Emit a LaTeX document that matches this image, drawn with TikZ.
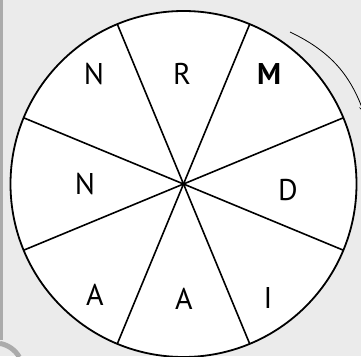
\documentclass[tikz,border=0pt]{standalone}
\usepackage{fontspec}
\setmainfont{PT Sans}
\usepackage{tikz}
\usetikzlibrary{arrows.meta}

\definecolor{paper}{HTML}{EBEBEB}
\definecolor{rim}{HTML}{ABABAB}

\begin{document}
\begin{tikzpicture}[x=1pt,y=1pt,>={Stealth[length=2.4mm]},
  letter/.style={inner sep=0pt,font=\fontsize{30}{30}\selectfont},
  spoke/.style={line width=1.6pt}]
  \useasboundingbox (0,0) rectangle (361,356);
  \fill[paper] (0,0) rectangle (361,356);
  \draw[rim, line width=2.5pt] (1.5,356) -- (1.5,16);
  \draw[rim, line width=5pt] (-5,-15) ++(80:28) arc[start angle=80, end angle=30, radius=28];
  % wheel
  \coordinate (c) at (183.5,172);
  \draw[fill=white, line width=1.8pt] (c) circle[radius=173];
  \draw[spoke] (c) -- ++(22.5:173);
  \draw[spoke] (c) -- ++(67.5:173);
  \draw[spoke] (c) -- ++(112.5:173);
  \draw[spoke] (c) -- ++(157.5:173);
  \draw[spoke] (c) -- ++(202.5:173);
  \draw[spoke] (c) -- ++(247.5:173);
  \draw[spoke] (c) -- ++(292.5:173);
  \draw[spoke] (c) -- ++(337.5:173);
  % letters
  \node[letter] (n1) at (94,282) {N};
  \node[letter] (r) at (182,282) {R};
  \node[letter] (m) at (269,282) {\textbf{M}};
  \node[letter] (n2) at (85,172) {N};
  \node[letter] (d) at (288,166) {D};
  \node[letter] (a1) at (95,61) {A};
  \node[letter] (a2) at (184,57) {A};
  \node[letter] (i) at (268,58) {I};
  % turning arrow
  \coordinate (turn0) at (290,324);
  \coordinate (turn1) at (364,243);
  \draw[->, line width=0.8pt] (turn0) to[bend left=22] (turn1);
\end{tikzpicture}
\end{document}
